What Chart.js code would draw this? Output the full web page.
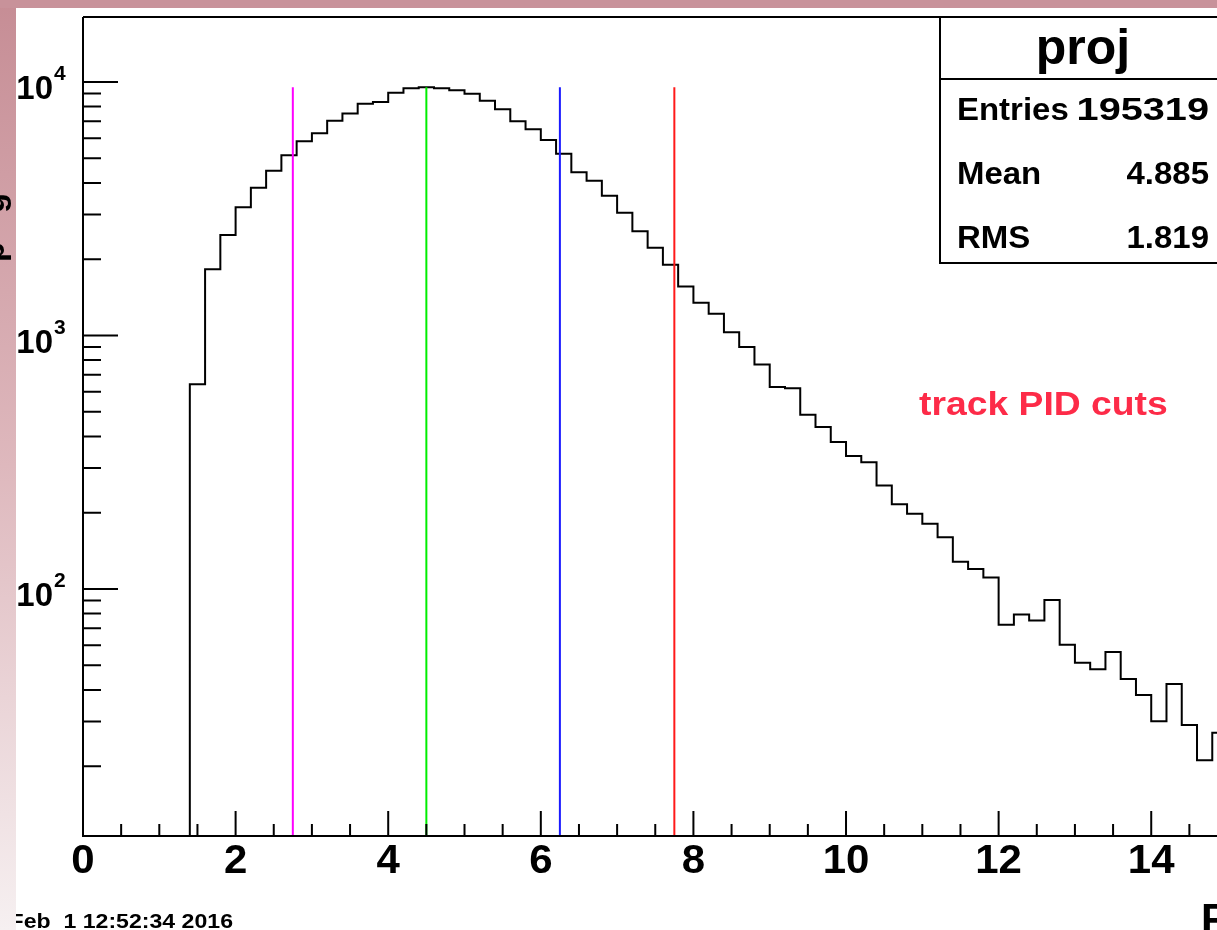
<!DOCTYPE html>
<html>
<head>
<meta charset="utf-8">
<script src="https://cdn.jsdelivr.net/npm/chart.js@4"></script>
<style>
  html, body { margin: 0; padding: 0; overflow: hidden; background: #fff; }
  #grafico { display: block; }
</style>
</head>
<body>
<canvas id="grafico" width="1217" height="930"></canvas>
<script>
// histogram "proj", bins of 0.2 starting at 1.4 (bins below are empty)
const binLo = 1.4
const binW = 0.2
const counts = [
  643, 1824, 2491, 3204, 3830, 4467, 5136, 5834, 6276, 7035,
  7519, 8214, 8340, 9077, 9460, 9530, 9440, 9270, 8980, 8440,
  7800, 6998, 6505, 5903, 5215, 4402, 4080, 3561, 3051, 2577,
  2221, 1903, 1560, 1346, 1220, 1030, 900, 769, 626, 619,
  487, 436, 380, 335, 316, 256, 216, 198, 181, 160,
  128, 120, 111, 72.3, 79.4, 75.2, 90.5, 60.3, 51.2, 48.2,
  56.4, 44.2, 38.2, 30.1, 42.2, 29.1, 21.1, 27.1
]

// PID cut positions
const cutValues = [2.75, 4.5, 6.25, 7.75]
const cutColors = ['#ff00ff', '#00ee00', '#1a1aff', '#ff1a1a']

// axes
const xMin = 0
const xMax = 14.862
const yMin = 10.61
const yMax = 18050
const xTicks = [0, 2, 4, 6, 8, 10, 12, 14]
const xTickLabels = ['0', '2', '4', '6', '8', '10', '12', '14']
const yTicks = [100, 1000, 10000]
const yTickExp = ['2', '3', '4']

// stats box
const histName = 'proj'
const statNames = ['Entries', 'Mean', 'RMS']
const statValues = ['195319', '4.885', '1.819']

const ctx = document.querySelector('#grafico')

// histogram outline as step points (left edges)
let histPts = [{x: 0, y: 1}]
counts.forEach((c, i) => histPts.push({x: binLo + i * binW, y: c}))
histPts.push({x: binLo + counts.length * binW, y: 1})

const peak = Math.max(...counts)
let cutSets = cutValues.map((v, i) => ({
  data: [{x: v, y: 1}, {x: v, y: peak}],
  borderColor: cutColors[i],
  borderWidth: 2,
  pointRadius: 0,
  order: 1
}))

const F = '"Liberation Sans", Arial, Helvetica, sans-serif'

function txt(c, s, x, y, size, align, color, sx) {
  sx = sx || 1
  c.save()
  c.font = 'bold ' + size + 'px ' + F
  c.fillStyle = color || '#000'
  c.textAlign = 'left'
  c.textBaseline = 'alphabetic'
  let w = c.measureText(s).width * sx
  let left = x
  if (align == 'center') left = x - w / 2
  if (align == 'right') left = x - w
  c.translate(left, y)
  c.scale(sx, 1)
  c.fillText(s, 0, 0)
  c.restore()
}

const rootStyle = {
  id: 'rootStyle',
  beforeDraw(chart) {
    const c = chart.ctx
    c.save()
    // slide background behind the ROOT canvas
    let g = c.createLinearGradient(0, 0, 0, 930)
    g.addColorStop(0, '#c68d95')
    g.addColorStop(0.5, '#deb8bd')
    g.addColorStop(1, '#f6f0f1')
    c.fillStyle = g
    c.fillRect(0, 0, 1217, 930)
    c.fillStyle = '#c8929a'
    c.fillRect(0, 0, 1217, 8)
    c.fillStyle = '#fff'
    c.fillRect(16, 8, 1201, 922)
    c.restore()
  },
  afterDraw(chart) {
    const c = chart.ctx
    const a = chart.chartArea
    const xs = chart.scales.x
    const ys = chart.scales.y
    c.save()
    c.strokeStyle = '#000'
    c.lineWidth = 2
    c.beginPath()
    c.moveTo(a.left, a.top); c.lineTo(a.right + 5, a.top)
    c.moveTo(a.left, a.top); c.lineTo(a.left, a.bottom)
    c.lineTo(a.right + 5, a.bottom)
    c.stroke()

    // x ticks
    c.beginPath()
    for (let v = xMin; v <= xMax; v += 0.5) {
      let px = xs.getPixelForValue(v)
      let major = xTicks.includes(v)
      c.moveTo(px, a.bottom)
      c.lineTo(px, a.bottom - (major ? 25 : 12))
    }
    // y ticks
    yTicks.concat([10]).forEach(d => {
      for (let m = 1; m < 10; m++) {
        let v = d * m
        if (v < yMin || v > yMax) continue
        let py = ys.getPixelForValue(v)
        c.moveTo(a.left, py)
        c.lineTo(a.left + (m == 1 ? 35 : 18), py)
      }
    })
    c.stroke()

    xTicks.forEach((v, i) => {
      txt(c, xTickLabels[i], xs.getPixelForValue(v), 873, 40, 'center', '#000', 1.05)
    })
    yTicks.forEach((v, i) => {
      let py = ys.getPixelForValue(v)
      txt(c, '10', 53, py + 17, 33, 'right')
      txt(c, yTickExp[i], 54, py - 2, 21, 'left')
    })

    // stats box
    let bx = 940, by = a.top, bw = 300, bh = 246
    c.fillStyle = '#fff'
    c.fillRect(bx, by, bw, bh)
    c.beginPath()
    c.rect(bx, by, bw, bh)
    c.moveTo(bx, 79); c.lineTo(bx + bw, 79)
    c.stroke()
    txt(c, histName, 1083, 64, 50, 'center')
    statNames.forEach((n, i) => {
      let base = 120 + i * 64
      txt(c, n, 957, base, 32, 'left', '#000', 1.03)
      txt(c, statValues[i], 1209, base, 32, 'right', '#000', i == 0 ? 1.24 : 1.03)
    })

    txt(c, 'track PID cuts', 919, 415, 33, 'left', '#fd2b48', 1.13)

    // axis title (cut at the right border)
    txt(c, 'P', 1201, 933, 42, 'left')

    // y title glyphs sticking out at the left border
    c.fillStyle = '#000'
    c.font = 'bold 33px ' + F
    c.textAlign = 'center'
    ;[['g', 203], ['p', 252]].forEach(p => {
      c.save()
      c.translate(4, p[1])
      c.rotate(-Math.PI / 2)
      c.fillText(p[0], 0, 0)
      c.restore()
    })

    // date stamp, clipped by the canvas border
    c.save()
    c.beginPath()
    c.rect(16, 8, 1201, 922)
    c.clip()
    txt(c, 'Feb  1 12:52:34 2016', 233, 928, 21, 'right', '#000', 1.1)
    c.restore()
    c.restore()
  }
}

let grafico = new Chart(ctx, {
  type: 'line',
  data: {
    datasets: [{
      label: histName,
      data: histPts,
      stepped: 'before',
      borderColor: '#000',
      borderWidth: 2,
      pointRadius: 0,
      fill: false,
      order: 2
    }].concat(cutSets)
  },
  options: {
    responsive: false,
    animation: false,
    events: [],
    layout: { padding: { left: 83, top: 17, right: 0, bottom: 94 } },
    plugins: { legend: { display: false }, tooltip: { enabled: false } },
    scales: {
      x: { type: 'linear', min: xMin, max: xMax, display: false },
      y: { type: 'logarithmic', min: yMin, max: yMax, display: false }
    }
  },
  plugins: [rootStyle]
})
</script>
</body>
</html>
